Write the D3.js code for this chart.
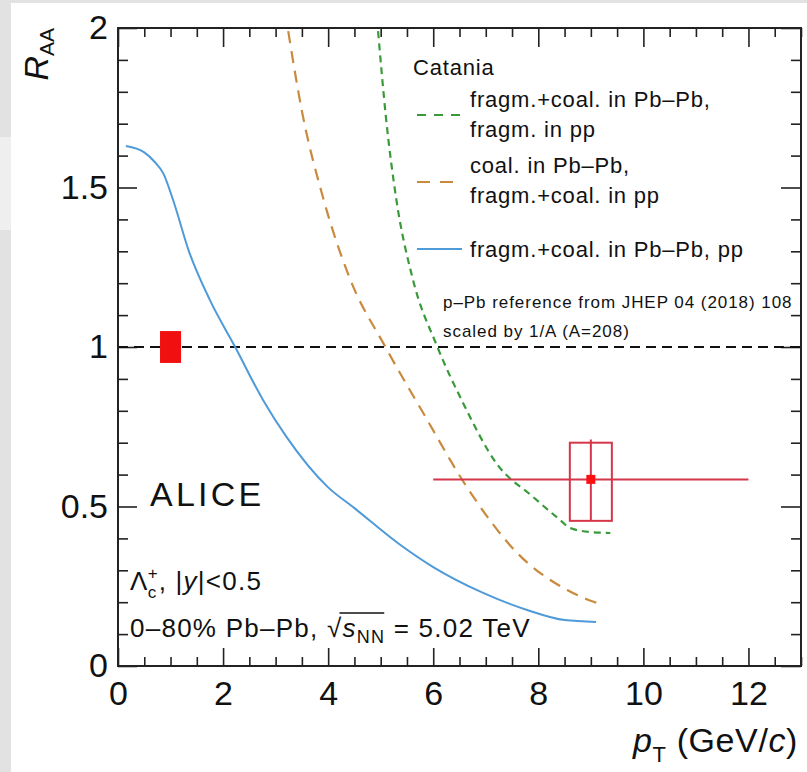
<!DOCTYPE html>
<html>
<head>
<meta charset="utf-8">
<script src="https://cdn.jsdelivr.net/npm/d3@7"></script>
<style>
  html, body { margin: 0; padding: 0; background: #e4e4e4; }
  svg { display: block; }
  text { font-family: "Liberation Sans", Arial, Helvetica, sans-serif; fill: #111; }
</style>
</head>
<body>
<svg id="chart" width="807" height="772"></svg>
<script>
// Catania model curves: pT (GeV/c) and R_AA
const blueX  = [0.15, 0.5, 0.7, 0.86, 1.05, 1.35, 1.75, 2.23, 2.76, 3.2, 4.0, 4.5, 5.37, 6.0, 6.95, 7.8, 8.5, 9.1];
const blueY  = [1.63, 1.61, 1.58, 1.545, 1.46, 1.30, 1.147, 1.0, 0.834, 0.72, 0.56, 0.495, 0.38, 0.31, 0.229, 0.175, 0.144, 0.138];

const greenX = [4.95, 5.1, 5.3, 5.6, 6.08, 6.57, 7.2, 7.9, 8.42, 8.6, 9.0, 9.37];
const greenY = [1.99, 1.72, 1.46, 1.22, 1.0, 0.824, 0.636, 0.53, 0.457, 0.433, 0.42, 0.417];

const orangeX = [3.24, 3.5, 3.9, 4.4, 5.09, 5.81, 6.64, 7.6, 8.55, 9.12];
const orangeY = [1.99, 1.74, 1.47, 1.22, 1.0, 0.793, 0.561, 0.354, 0.238, 0.197];

// ALICE Lambda_c+ measurement, 6-12 GeV/c bin
const dataX = [9.0];
const dataXLo = [6.0];
const dataXHi = [12.0];
const dataY = [0.585];
const statLo = [0.13];
const statHi = [0.125];
const systLo = [0.13];
const systHi = [0.115];
const systHalfWidth = 0.4;

// normalisation uncertainty at unity
const normX = 1.0;
const normHalfWidth = 0.2;
const normUnc = 0.05;

const xMajor = [0, 2, 4, 6, 8, 10, 12];
const yMajor = [0, 0.5, 1, 1.5, 2];
const xMajorLabels = ["0", "2", "4", "6", "8", "10", "12"];
const yMajorLabels = ["0", "0.5", "1", "1.5", "2"];

const svg = d3.select("#chart");
const W = 807, H = 772;
const padL = 118, padR = 801, padT = 28, padB = 666;

const x = d3.scaleLinear().domain([0, 13]).range([padL, padR]);
const y = d3.scaleLinear().domain([0, 2]).range([padB, padT]);

// page backdrop
svg.append("rect").attr("x", 0).attr("y", 0).attr("width", W).attr("height", H).attr("fill", "#e2e2e2");
svg.append("rect").attr("x", 0).attr("y", 137).attr("width", 11).attr("height", 93).attr("fill", "#efefef");
svg.append("rect").attr("x", 11).attr("y", 3).attr("width", W - 11).attr("height", H - 3).attr("fill", "#ffffff");

const clip = svg.append("defs").append("clipPath").attr("id", "plotclip");
clip.append("rect").attr("x", padL).attr("y", padT).attr("width", padR - padL).attr("height", padB - padT);

// ticks
const xMinor = d3.range(0, 13.01, 0.5).filter(v => Math.abs(v % 2) > 1e-6);
const yMinor = d3.range(0, 2.001, 0.1).map(v => +v.toFixed(2)).filter(v => Math.abs((v * 2) - Math.round(v * 2)) > 1e-6);

function axisGroup(axis, tx, ty) {
  const g = svg.append("g").attr("transform", `translate(${tx},${ty})`).call(axis);
  g.select(".domain").remove();
  g.selectAll(".tick line").attr("stroke", "#222").attr("stroke-width", 1.6);
  return g;
}

// bottom
const gxb = axisGroup(d3.axisBottom(x).tickValues(xMajor).tickFormat((d, i) => xMajorLabels[i]).tickSizeInner(-18).tickSizeOuter(0).tickPadding(15), 0, padB);
gxb.selectAll("text").attr("font-size", 34).attr("fill", "#111");
axisGroup(d3.axisBottom(x).tickValues(xMinor).tickFormat("").tickSizeInner(-9).tickSizeOuter(0), 0, padB);
// top
axisGroup(d3.axisTop(x).tickValues(xMajor).tickFormat("").tickSizeInner(-19).tickSizeOuter(0), 0, padT);
axisGroup(d3.axisTop(x).tickValues(xMinor).tickFormat("").tickSizeInner(-9).tickSizeOuter(0), 0, padT);
// left
const gyl = axisGroup(d3.axisLeft(y).tickValues(yMajor).tickFormat((d, i) => yMajorLabels[i]).tickSizeInner(-19).tickSizeOuter(0).tickPadding(10), padL, 0);
gyl.selectAll("text").attr("font-size", 34).attr("fill", "#111");
axisGroup(d3.axisLeft(y).tickValues(yMinor).tickFormat("").tickSizeInner(-10).tickSizeOuter(0), padL, 0);
// right
axisGroup(d3.axisRight(y).tickValues(yMajor).tickFormat("").tickSizeInner(-20).tickSizeOuter(0), padR, 0);
axisGroup(d3.axisRight(y).tickValues(yMinor).tickFormat("").tickSizeInner(-10).tickSizeOuter(0), padR, 0);

// y=1 reference line
svg.append("line")
  .attr("x1", x(0)).attr("x2", x(13)).attr("y1", y(1)).attr("y2", y(1))
  .attr("stroke", "#111").attr("stroke-width", 2).attr("stroke-dasharray", "10,6");

// normalisation box
svg.append("rect")
  .attr("x", x(normX - normHalfWidth)).attr("width", x(normX + normHalfWidth) - x(normX - normHalfWidth))
  .attr("y", y(1 + normUnc)).attr("height", y(1 - normUnc) - y(1 + normUnc))
  .attr("fill", "#f01010");

// model curves
const plot = svg.append("g").attr("clip-path", "url(#plotclip)");
const line = d3.line().x(d => x(d[0])).y(d => y(d[1])).curve(d3.curveMonotoneX);
const zip = (a, b) => a.map((v, i) => [v, b[i]]);

plot.append("path").attr("d", line(zip(orangeX, orangeY)))
  .attr("fill", "none").attr("stroke", "#c98a3e").attr("stroke-width", 2.2).attr("stroke-dasharray", "12,8");
plot.append("path").attr("d", line(zip(greenX, greenY)))
  .attr("fill", "none").attr("stroke", "#3a9a3a").attr("stroke-width", 2.2).attr("stroke-dasharray", "7,5");
plot.append("path").attr("d", line(zip(blueX, blueY)))
  .attr("fill", "none").attr("stroke", "#4f9ad8").attr("stroke-width", 2);

// data point
const red = "#d6364a";
dataX.forEach((px, i) => {
  svg.append("rect")
    .attr("x", x(px - systHalfWidth)).attr("width", x(px + systHalfWidth) - x(px - systHalfWidth))
    .attr("y", y(dataY[i] + systHi[i])).attr("height", y(dataY[i] - systLo[i]) - y(dataY[i] + systHi[i]))
    .attr("fill", "none").attr("stroke", red).attr("stroke-width", 2);
  svg.append("line").attr("x1", x(dataXLo[i])).attr("x2", x(dataXHi[i])).attr("y1", y(dataY[i])).attr("y2", y(dataY[i]))
    .attr("stroke", red).attr("stroke-width", 2);
  svg.append("line").attr("x1", x(px)).attr("x2", x(px)).attr("y1", y(dataY[i] + statHi[i])).attr("y2", y(dataY[i] - statLo[i]))
    .attr("stroke", red).attr("stroke-width", 2);
  svg.append("rect").attr("x", x(px) - 4.5).attr("y", y(dataY[i]) - 4.5).attr("width", 9).attr("height", 9).attr("fill", "#ff1010");
});

// frame
svg.append("rect").attr("x", padL).attr("y", padT).attr("width", padR - padL).attr("height", padB - padT)
  .attr("fill", "none").attr("stroke", "#222").attr("stroke-width", 2);

// axis titles
const yt = svg.append("text").attr("transform", `translate(48,${padT}) rotate(-90)`).attr("text-anchor", "end");
yt.append("tspan").attr("font-size", 34).attr("font-style", "italic").text("R");
yt.append("tspan").attr("font-size", 21).attr("dy", 6).text("AA");

const xt = svg.append("text").attr("x", 798).attr("y", 752).attr("text-anchor", "end").attr("font-size", 34)
  .attr("letter-spacing", 0.6);
xt.append("tspan").attr("font-style", "italic").text("p");
xt.append("tspan").attr("font-size", 22).attr("dy", 10).text("T");
xt.append("tspan").attr("dy", -10).text(" (GeV/");
xt.append("tspan").attr("font-style", "italic").text("c");
xt.append("tspan").text(")");

// legend
const legFont = 22, legSpacing = 0.8;
svg.append("text").attr("x", 413).attr("y", 75).attr("font-size", legFont).attr("letter-spacing", legSpacing).text("Catania");
const legend = [
  { color: "#3a9a3a", dash: "9,8", yLine: 115, lines: ["fragm.+coal. in Pb\u2013Pb,", "fragm. in pp"], y0: 107 },
  { color: "#c98a3e", dash: "13,10", yLine: 182, lines: ["coal. in Pb\u2013Pb,", "fragm.+coal. in pp"], y0: 173 },
  { color: "#4f9ad8", dash: null, yLine: 249, lines: ["fragm.+coal. in Pb\u2013Pb, pp"], y0: 257 }
];
legend.forEach(e => {
  svg.append("line").attr("x1", 417).attr("x2", 462).attr("y1", e.yLine).attr("y2", e.yLine)
    .attr("stroke", e.color).attr("stroke-width", 2).attr("stroke-dasharray", e.dash);
  e.lines.forEach((t, j) => {
    svg.append("text").attr("x", 470).attr("y", e.y0 + j * 30).attr("font-size", legFont)
      .attr("letter-spacing", legSpacing).text(t);
  });
});
svg.append("text").attr("x", 443).attr("y", 308).attr("font-size", 17).attr("letter-spacing", 0.95)
  .text("p\u2013Pb reference from JHEP 04 (2018) 108");
svg.append("text").attr("x", 443).attr("y", 337).attr("font-size", 17).attr("letter-spacing", 0.95)
  .text("scaled by 1/A (A=208)");

// experiment label
svg.append("text").attr("x", 150).attr("y", 506).attr("font-size", 34).attr("letter-spacing", 3.2).text("ALICE");

// particle and rapidity
const annFont = 26, annSpacing = 1.25;
const t1 = svg.append("text").attr("x", 130).attr("y", 590).attr("font-size", annFont).attr("letter-spacing", annSpacing);
t1.append("tspan").text("\u039B");
const lamW = t1.node().getComputedTextLength();
svg.append("text").attr("x", 130 + lamW - 1).attr("y", 598).attr("font-size", 17).text("c");
svg.append("text").attr("x", 130 + lamW - 1).attr("y", 579).attr("font-size", 17).text("+");
const t1b = svg.append("text").attr("x", 130 + lamW + 10).attr("y", 590).attr("font-size", annFont).attr("letter-spacing", annSpacing);
t1b.append("tspan").text(", |");
t1b.append("tspan").attr("font-style", "italic").text("y");
t1b.append("tspan").text("|<0.5");

// collision system
const t2 = svg.append("text").attr("x", 130).attr("y", 637).attr("font-size", annFont).attr("letter-spacing", annSpacing);
t2.append("tspan").text("0\u201380% Pb\u2013Pb, ");
t2.append("tspan").text("\u221A");
const sqW = t2.node().getComputedTextLength();
t2.append("tspan").attr("font-style", "italic").text("s");
t2.append("tspan").attr("font-size", 18).attr("dy", 6).text("NN");
const sNNW = t2.node().getComputedTextLength();
t2.append("tspan").attr("dy", -6).text(" = 5.02 TeV");
svg.append("line").attr("x1", 130 + sqW - 3).attr("x2", 130 + sNNW - 1).attr("y1", 613).attr("y2", 613)
  .attr("stroke", "#111").attr("stroke-width", 1.6);
</script>
</body>
</html>
